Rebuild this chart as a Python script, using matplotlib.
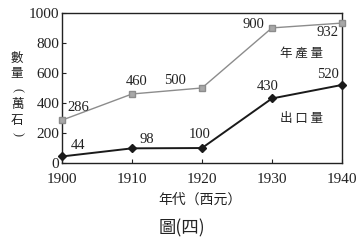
import matplotlib
matplotlib.use("Agg")
import matplotlib.pyplot as plt

years = [1900, 1910, 1920, 1930, 1940]
production = [286, 460, 500, 900, 932]
export = [44, 98, 100, 430, 520]
y_ticks = [0, 200, 400, 600, 800, 1000]

# label positions (data coords) for value labels
prod_label_pos = [(1902.3, 373), (1910.7, 540), (1916.1, 547), (1927.3, 920), (1938.0, 867)]
exp_label_pos = [(1902.3, 120), (1912.1, 160), (1919.7, 187), (1929.4, 513), (1938.0, 587)]

serif = ['Liberation Serif', 'DejaVu Serif']
cjk = ['Noto Sans CJK TC', 'DejaVu Sans']

fig = plt.figure(figsize=(3.61, 2.43), dpi=100)
ax = fig.add_axes([0.172, 0.329, 0.775, 0.618])

ax.plot(years, production, color='#8c8c8c', lw=1.0, marker='s', ms=5,
        mfc='#a8a8a8', mec='#8c8c8c', clip_on=False, zorder=3)
ax.plot(years, export, color='#1a1a1a', lw=1.4, marker='D', ms=4.5,
        mfc='#1a1a1a', mec='#1a1a1a', clip_on=False, zorder=3)

for v, (x, y) in zip(production, prod_label_pos):
    ax.text(x, y, str(v), ha='center', va='center', fontsize=10.5, family=serif, color='#222222')
for v, (x, y) in zip(export, exp_label_pos):
    ax.text(x, y, str(v), ha='center', va='center', fontsize=10.5, family=serif, color='#222222')

ax.text(1934.3, 733, '年 產 量', ha='center', va='center', fontsize=9, family=cjk, color='#222222')
ax.text(1934.3, 300, '出 口 量', ha='center', va='center', fontsize=9, family=cjk, color='#222222')

ax.set_xlim(1900, 1940)
ax.set_ylim(0, 1000)
ax.set_xticks(years)
ax.set_yticks(y_ticks)
ax.set_xticklabels([str(y) for y in years], family=serif, fontsize=11)
ax.set_yticklabels([str(t) for t in y_ticks], family=serif, fontsize=11)
ax.tick_params(direction='in', length=3, width=0.8, colors='#222222')
ax.tick_params(axis='x', pad=7)
ax.tick_params(axis='y', pad=2)
for s in ax.spines.values():
    s.set_linewidth(1.0)
    s.set_color('#222222')

# vertical y-axis label, one glyph at a time
ylab_chars = [('數', 58, 0), ('量', 74, 0), ('(', 90, -90), ('萬', 104, 0), ('石', 120, 0), (')', 134, -90)]
for ch, ypix, rot in ylab_chars:
    fam = serif if ch in '()' else cjk
    fig.text(17 / 361, 1 - ypix / 243, ch, ha='center', va='center', fontsize=9,
             family=fam, rotation=rot, color='#222222')

fig.text(200 / 361, 1 - 200 / 243, '年代（西元）', ha='center', va='center', fontsize=10,
         family=cjk, color='#222222')
fig.text(182 / 361, 1 - 228 / 243, '圖(四)', ha='center', va='center', fontsize=12.5,
         family=cjk, color='#222222')

fig.savefig('out.png', dpi=100)
